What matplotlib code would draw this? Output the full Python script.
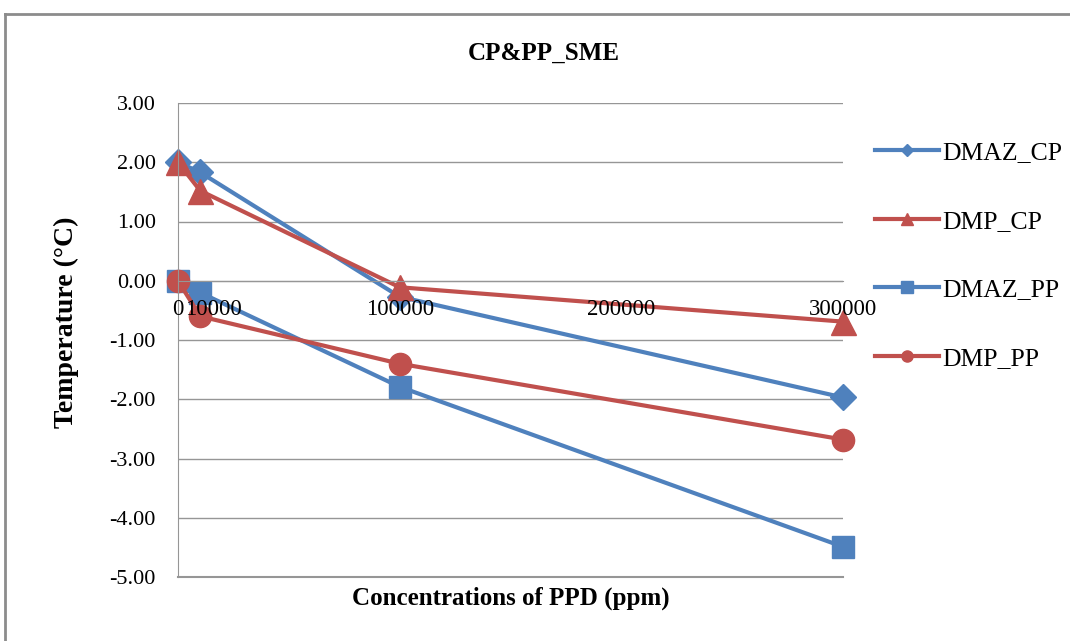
#!/usr/bin/env python3

import numpy as np
from matplotlib import pyplot as plt
from matplotlib.lines import Line2D
import matplotlib.transforms as mtrans

plt.rcParams['font.family'] = ['Liberation Serif', 'DejaVu Serif']

# concentracoes de PPD (ppm)
conc = [0, 10000, 100000, 300000]
dmaz_cp = [2.00, 1.83, -0.27, -1.97]
dmp_cp = [2.00, 1.52, -0.11, -0.69]
dmaz_pp = [0.00, -0.20, -1.79, -4.49]
dmp_pp = [0.00, -0.60, -1.40, -2.68]

xticks = [0, 10000, 100000, 200000, 300000]
yticks = [3, 2, 1, 0, -1, -2, -3, -4, -5]

BLUE = '#4F81BD'
RED = '#C0504D'
GRID = '#969696'


def main():
    fig = plt.figure(figsize=(10.7, 6.41), dpi=100)
    ax = fig.add_axes([178/1070, 1 - 577/641, (843 - 178)/1070, (577 - 103)/641])

    # eixo x cruza em y=0 (como no Excel); tem que vir antes dos ticks
    for s in ['top', 'right']:
        ax.spines[s].set_visible(False)
    ax.spines['bottom'].set_position(('data', 0))
    ax.spines['bottom'].set_color(GRID)
    ax.spines['left'].set_color(GRID)

    ax.plot(conc, dmaz_cp, color=BLUE, lw=3, marker='D', ms=13, label='DMAZ_CP', clip_on=False)
    ax.plot(conc, dmp_cp, color=RED, lw=3, marker='^', ms=18, label='DMP_CP', clip_on=False)
    ax.plot(conc, dmaz_pp, color=BLUE, lw=3, marker='s', ms=16, label='DMAZ_PP', clip_on=False)
    ax.plot(conc, dmp_pp, color=RED, lw=3, marker='o', ms=16, label='DMP_PP', clip_on=False)

    ax.set_xlim(0, 300000)
    ax.set_ylim(-5, 3)
    ax.set_yticks(yticks)
    ax.set_yticklabels([f'{v:.2f}' for v in yticks], fontsize=16)
    ax.set_xticks(xticks)
    ax.set_xticklabels([str(v) for v in xticks], fontsize=16.5)
    ax.tick_params(length=0)
    ax.tick_params(axis='y', pad=16)
    ax.tick_params(axis='x', pad=13)
    # Excel empurra o rotulo 10000 para nao sobrepor o 0
    lab = ax.get_xticklabels()[1]
    lab.set_transform(lab.get_transform() + mtrans.ScaledTranslation(0.13, 0, fig.dpi_scale_trans))

    ax.grid(axis='y', color=GRID, lw=1)
    ax.axhline(-5, color=GRID, lw=1.5, clip_on=False, zorder=0.5)
    ax.set_axisbelow(True)
    ax.xaxis.set_zorder(5)  # rotulos do eixo x por cima das linhas

    fig.text(544/1070, 1 - 53/641, 'CP&PP_SME', ha='center', va='center',
             fontsize=18, fontweight='bold')
    fig.text((178 + 843)/2/1070, 1 - 598/641, 'Concentrations of PPD (ppm)', ha='center',
             va='center', fontsize=18, fontweight='bold')
    fig.text(66/1070, 1 - 322/641, 'Temperature (\u00b0C)', ha='center', va='center',
             rotation=90, fontsize=20, fontweight='bold')

    ax.legend(loc='upper left', bbox_to_anchor=(875/1070, 1 - 141/641),
              bbox_transform=fig.transFigure, frameon=False, fontsize=18.5,
              handlelength=2.5, handletextpad=0.1, labelspacing=1.78,
              markerscale=0.5, borderaxespad=0, borderpad=0)

    # moldura da area do grafico
    fig.add_artist(Line2D([5/1070, 1], [1 - 14/641, 1 - 14/641], color='#8c8c8c', lw=2,
                          transform=fig.transFigure))
    fig.add_artist(Line2D([5/1070, 5/1070], [0, 1 - 14/641], color='#8c8c8c', lw=2,
                          transform=fig.transFigure))

    fig.savefig('out.png', dpi=100)


if __name__ == '__main__':
    main()
